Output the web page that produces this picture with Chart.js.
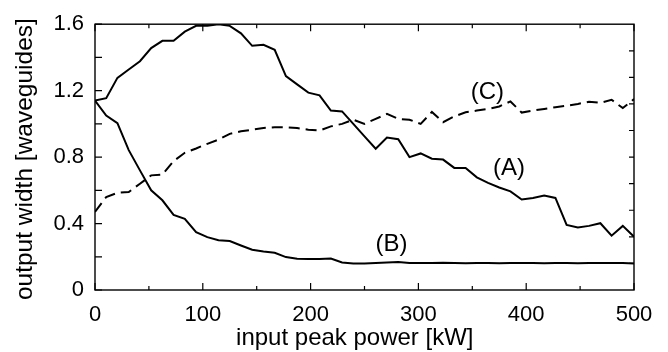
<!DOCTYPE html>
<html><head><meta charset="utf-8">
<script src="https://cdn.jsdelivr.net/npm/chart.js@4"></script>
<style>html,body{margin:0;padding:0;background:#fff;} #wrap{width:668px;height:352px;position:relative;}</style>
</head><body><div id="wrap"><canvas id="c"></canvas></div>
<script>
// input peak power [kW]
const power = [0, 10.4, 20.8, 31.3, 41.7, 52.1, 62.5, 72.9, 83.3, 93.8, 104.2, 114.6, 125, 135.4, 145.8, 156.3, 166.7, 177.1, 187.5, 197.9, 208.3, 218.8, 229.2, 239.6, 250, 260.4, 270.8, 281.3, 291.7, 302.1, 312.5, 322.9, 333.3, 343.8, 354.2, 364.6, 375, 385.4, 395.8, 406.3, 416.7, 427.1, 437.5, 447.9, 458.3, 468.8, 479.2, 489.6, 500];
// output width [waveguides]
const curveA = [1.14, 1.155, 1.277, 1.327, 1.377, 1.456, 1.50, 1.50, 1.555, 1.59, 1.59, 1.60, 1.59, 1.545, 1.47, 1.476, 1.446, 1.288, 1.238, 1.188, 1.172, 1.08, 1.075, 1.0, 0.925, 0.85, 0.918, 0.908, 0.80, 0.822, 0.79, 0.785, 0.735, 0.735, 0.678, 0.645, 0.617, 0.594, 0.545, 0.554, 0.568, 0.554, 0.392, 0.376, 0.386, 0.402, 0.327, 0.386, 0.321];
const curveB = [1.14, 1.05, 1.004, 0.842, 0.72, 0.60, 0.54, 0.452, 0.428, 0.348, 0.318, 0.30, 0.295, 0.268, 0.242, 0.232, 0.224, 0.198, 0.188, 0.186, 0.186, 0.19, 0.166, 0.16, 0.16, 0.162, 0.165, 0.168, 0.163, 0.162, 0.163, 0.164, 0.162, 0.161, 0.163, 0.162, 0.161, 0.163, 0.162, 0.162, 0.161, 0.162, 0.162, 0.161, 0.162, 0.162, 0.163, 0.162, 0.16];
const curveC = [0.47, 0.56, 0.585, 0.59, 0.64, 0.69, 0.695, 0.776, 0.826, 0.852, 0.88, 0.905, 0.94, 0.955, 0.965, 0.975, 0.98, 0.98, 0.975, 0.965, 0.96, 0.985, 1.0, 1.025, 1.0, 1.03, 1.06, 1.03, 1.025, 1.0, 1.072, 1.01, 1.045, 1.07, 1.08, 1.09, 1.105, 1.135, 1.068, 1.08, 1.09, 1.10, 1.109, 1.12, 1.133, 1.127, 1.145, 1.095, 1.149];
const xTickLabels = [0, 100, 200, 300, 400, 500];
const yTickLabels = [0, 0.4, 0.8, 1.2, 1.6];
const xMinorTicks = [50, 150, 250, 350, 450];
const yMinorTicks = [0.2, 0.6, 1.0, 1.4];
const rightTicks = [0.16, 0.32, 0.48, 0.64, 0.8, 0.96, 1.12, 1.28, 1.44];
const curveNames = ['(A)', '(B)', '(C)'];
const xTitle = 'input peak power [kW]';
const yTitle = 'output width [waveguides]';

const FONT = '"Liberation Sans", Arial, Helvetica, sans-serif';
const toXY = arr => arr.map((v, i) => ({x: power[i], y: v}));

const frame = {
  id: 'frame',
  afterDraw(chart) {
    const ctx = chart.ctx, a = chart.chartArea;
    const xs = chart.scales.x, ys = chart.scales.y;
    ctx.save();
    ctx.strokeStyle = '#000';
    ctx.lineWidth = 1.4;
    ctx.strokeRect(a.left, a.top, a.right - a.left, a.bottom - a.top);
    ctx.lineWidth = 1.2;
    ctx.beginPath();
    const vt = (v, len) => { const p = xs.getPixelForValue(v);
      ctx.moveTo(p, a.bottom); ctx.lineTo(p, a.bottom - len);
      ctx.moveTo(p, a.top); ctx.lineTo(p, a.top + len); };
    xTickLabels.forEach(v => vt(v, 7));
    xMinorTicks.forEach(v => vt(v, 4));
    const ht = (v, len) => { const p = ys.getPixelForValue(v);
      ctx.moveTo(a.left, p); ctx.lineTo(a.left + len, p); };
    yTickLabels.forEach(v => ht(v, 7));
    yMinorTicks.forEach(v => ht(v, 7));
    rightTicks.forEach(v => { const p = ys.getPixelForValue(v);
      ctx.moveTo(a.right, p); ctx.lineTo(a.right - 5, p); });
    ctx.stroke();
    // titles
    ctx.fillStyle = '#000';
    ctx.font = '24px ' + FONT;
    ctx.textAlign = 'center';
    ctx.textBaseline = 'alphabetic';
    ctx.fillText(xTitle, xs.getPixelForValue(241), 345);
    ctx.save();
    ctx.font = '24.5px ' + FONT;
    ctx.translate(32, (a.top + a.bottom) / 2 + 2);
    ctx.rotate(-Math.PI / 2);
    ctx.fillText(yTitle, 0, 0);
    ctx.restore();
    // curve labels
    ctx.textBaseline = 'middle';
    const pos = [[384, 0.731], [275, 0.273], [364, 1.188]];
    curveNames.forEach((t, i) => {
      ctx.fillText(t, xs.getPixelForValue(pos[i][0]), ys.getPixelForValue(pos[i][1]));
    });
    ctx.restore();
  }
};

new Chart(document.getElementById('c'), {
  type: 'line',
  data: {
    datasets: [
      {label: 'A', data: toXY(curveA), borderColor: '#000', borderWidth: 2, pointRadius: 0, tension: 0, fill: false},
      {label: 'B', data: toXY(curveB), borderColor: '#000', borderWidth: 2, pointRadius: 0, tension: 0, fill: false},
      {label: 'C', data: toXY(curveC), borderColor: '#000', borderWidth: 2, pointRadius: 0, tension: 0, fill: false, borderDash: [11, 6]}
    ]
  },
  options: {
    responsive: true,
    maintainAspectRatio: false,
    animation: false,
    layout: {padding: {top: 21, right: 34, left: 0, bottom: 0}},
    plugins: {legend: {display: false}, tooltip: {enabled: false}},
    scales: {
      x: {
        type: 'linear', min: 0, max: 500,
        grid: {display: false, drawTicks: false},
        border: {display: false},
        afterBuildTicks: s => { s.ticks = xTickLabels.map(v => ({value: v})); },
        afterFit: s => { s.height = 62; },
        ticks: {color: '#000', font: {family: FONT, size: 22}, padding: 12, maxRotation: 0, callback: v => String(v)}
      },
      y: {
        type: 'linear', min: 0, max: 1.6,
        grid: {display: false, drawTicks: false},
        border: {display: false},
        afterBuildTicks: s => { s.ticks = yTickLabels.map(v => ({value: v})); },
        afterFit: s => { s.width = 95; },
        ticks: {color: '#000', font: {family: FONT, size: 22}, padding: 11, callback: v => v === 0 ? '0' : Number(v).toFixed(1)}
      }
    }
  },
  plugins: [frame]
});
</script></body></html>
